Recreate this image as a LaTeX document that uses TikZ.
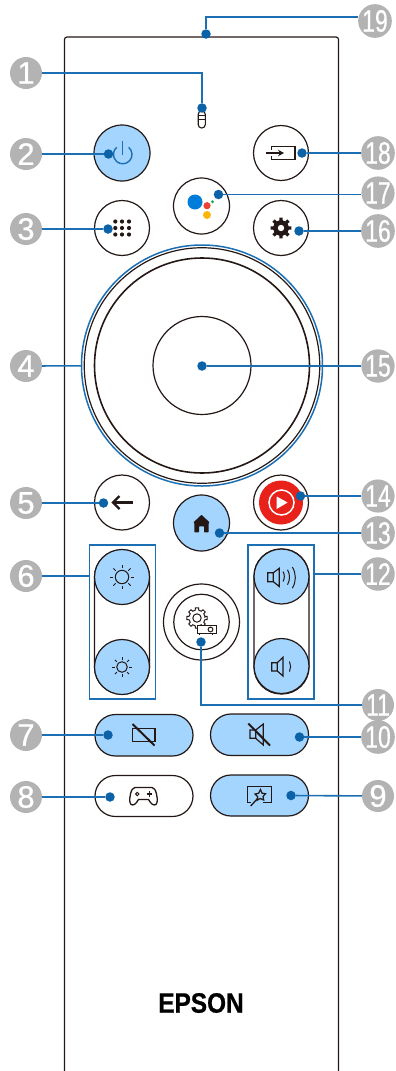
\documentclass[tikz,border=0pt]{standalone}
\usepackage{fontspec}
\setmainfont{Liberation Sans}
\newfontfamily\numfont[FakeBold=0.7]{Liberation Sans}
\newfontfamily\logofont[FakeBold=0.8]{Liberation Sans Bold}
\usetikzlibrary{arrows.meta,calc}
\definecolor{ink}{HTML}{231815}
\definecolor{callblue}{HTML}{1B6FB2}
\definecolor{dotblue}{HTML}{0B62A6}
\definecolor{keyblue}{HTML}{A3D5FF}
\definecolor{labelgrey}{HTML}{B3B3B3}
\newcommand{\one}[1]{#1}
\newcommand{\two}[1]{\scalebox{0.74}[1]{#1}}
% \GearShape{centre}{outer radius}{inner radius}{options}
\newcommand{\GearShape}[4]{%
  \begin{scope}[shift={#1}]
    \path[#4] (0:#3)
    \foreach \a in {0,45,...,315}{
      -- (\a-13:#3) -- (\a-9:#2) -- (\a+9:#2) -- (\a+13:#3) -- (\a+32:#3)
    } -- cycle;
  \end{scope}}
\tikzset{
  x=1pt,y=-1pt,
  numlabel/.style={circle,fill=labelgrey,text=white,minimum size=32pt,inner sep=0pt,font=\numfont\fontsize{31}{31}\selectfont},
  calldot/.style={circle,fill=dotblue,minimum size=9.5pt,inner sep=0pt},
  callout/.style={draw=callblue,line width=1.6pt},
  keywhite/.style={circle,draw=ink,fill=white,line width=1.2pt,inner sep=0pt},
  keylit/.style={circle,draw=ink,fill=keyblue,line width=1.2pt,inner sep=0pt},
  pillkey/.style={draw=ink,line width=1.2pt,rounded corners=20.5pt},
  glyph/.style={draw=ink,line width=1.3pt},
  glyphthin/.style={draw=ink,line width=1pt},
  anchorpt/.style={inner sep=0pt,minimum size=0pt},
}
\begin{document}
\begin{tikzpicture}
\useasboundingbox (0,0) rectangle (396,1071);
% body
\draw[draw=ink,line width=1.2pt,rounded corners=2.5pt] (64.5,1075) -- (64.5,37) -- (338.5,37) -- (338.5,1075);

% ring
\node[circle,draw=callblue,line width=1.5pt,minimum size=241pt,inner sep=0pt] (ringblue) at (202,365.5) {};
\node[keywhite,minimum size=235.5pt] (ringouter) at (202,365.5) {};
\node[keywhite,minimum size=215pt,line width=1.6pt] (ringinner) at (202,365.5) {};
\node[keywhite,minimum size=98pt] (okkey) at (202,365.5) {};

% round keys
\node[keylit,minimum size=56pt] (power) at (122,153) {};
\node[keywhite,minimum size=55pt] (input) at (281,153) {};
\node[keywhite,minimum size=56pt] (assistant) at (201.5,206) {};
\node[keywhite,minimum size=55pt] (apps) at (122,228) {};
\node[keywhite,minimum size=55pt] (settings) at (281,228) {};
\node[keywhite,minimum size=55pt] (back) at (122,502.5) {};
\node[keywhite,minimum size=55pt] (yt) at (281,502.5) {};
\node[keylit,minimum size=56pt] (home) at (201.5,523) {};
\node[keywhite,minimum size=76pt] (projouter) at (201.5,622) {};
\node[keywhite,minimum size=55.5pt] (projinner) at (201.5,622) {};

% rocker keys
\draw[pillkey,rounded corners=27pt,fill=white] (94.5,550) rectangle (149.5,694);
\draw[pillkey,rounded corners=27pt,fill=white] (254,549) rectangle (309,694);
\node[keylit,minimum size=55pt] (brightup) at (122,577) {};
\node[keylit,minimum size=55pt] (brightdown) at (122,667) {};
\node[keylit,minimum size=55pt] (volup) at (281.5,576.5) {};
\node[keylit,minimum size=55pt] (voldown) at (281.5,666) {};

% callout frames
\node[draw=callblue,line width=1.6pt,minimum width=66pt,minimum height=154pt,inner sep=0pt] (frameb) at (122.5,622) {};
\node[draw=callblue,line width=1.6pt,minimum width=66pt,minimum height=154pt,inner sep=0pt] (framev) at (281,622) {};

% pill keys
\draw[pillkey,fill=keyblue] (95,714.5) rectangle (193,756);
\draw[pillkey,fill=keyblue] (210.5,714) rectangle (308.5,755.5);
\draw[pillkey,fill=white] (95,775.5) rectangle (193,816.5);
\draw[pillkey,fill=keyblue] (210.5,775) rectangle (308.5,816);

% ---- icons ----
% microphone
\draw[glyphthin,line width=1.1pt,rounded corners=3.4pt] (198.2,111) rectangle (205.3,128);
\draw[glyphthin] (198.2,115) -- (205.3,115) (198.2,119.5) -- (205.3,119.5);
% power
\draw[callblue,line width=1.4pt] (122.7,141) -- (122.7,155);
\draw[callblue,line width=1.4pt] (122.7,154.5) ++(-50:9.3) arc[start angle=-50,end angle=230,radius=9.3];
% input
\draw[glyph] (271.8,150) -- (271.8,146.7) -- (295,146.7) -- (295,159.3) -- (271.8,159.3) -- (271.8,156);
\draw[ink,line width=1.6pt,-{Stealth[length=6pt,width=6.5pt]}] (266,153) -- (284,153);
% assistant
\fill[fill={rgb,255:red,0;green,124;blue,218}] (195,202) circle[radius=7.5];
\fill[fill={rgb,255:red,234;green,67;blue,53}] (207,205.7) circle[radius=3.6];
\fill[fill={rgb,255:red,252;green,183;blue,10}] (207,215) circle[radius=4];
\fill[fill={rgb,255:red,30;green,170;blue,85}] (212.5,201.7) circle[radius=1.6];
% apps
\foreach \gx in {115.3,122,129}{\foreach \gy in {221.5,228,234.5}{\fill[ink] (\gx,\gy) circle[radius=2.1];}}
% settings gear
\GearShape{(281,228)}{10.6}{7.8}{fill=ink}
\fill[white] (281,228) circle[radius=3.2];
% back arrow
\draw[ink,line width=2.3pt] (113,502.5) -- (133,502.5);
\draw[ink,line width=2.3pt,line join=miter] (119.5,496) -- (113,502.5) -- (119.5,509);
% youtube
\fill[fill={rgb,255:red,232;green,33;blue,26}] (281,502.5) circle[radius=22];
\draw[white,line width=1.5pt] (281.5,502.5) circle[radius=12.5];
\fill[white] (276.7,496.5) -- (287.6,502.5) -- (276.7,509) -- cycle;
% home
\fill[ink,rounded corners=0.6pt] (201.5,514.8) -- (209.6,522.4) -- (208.6,523) -- (208.6,532.3) -- (204,532.3) -- (204,526.3) -- (199,526.3) -- (199,532.3) -- (194.4,532.3) -- (194.4,523) -- (193.4,522.4) -- cycle;
% brightness up
\draw[glyphthin] (122,577) circle[radius=6.7];
\foreach \a in {0,45,...,315}{\draw[glyphthin] (122,577) ++(\a:9) -- ++(\a:3.2);}
% brightness down
\draw[glyphthin] (122,667) circle[radius=5.3];
\foreach \a in {0,45,...,315}{\draw[glyphthin] (122,667) ++(\a:7.3) -- ++(\a:2.7);}
% volume up
\draw[glyphthin,line width=1.2pt] (273.3,572.7) -- (267.7,572.7) -- (267.7,581.7) -- (273.3,581.7) (273.3,572.7) -- (279.3,568.3) -- (279.3,586.5) -- (273.3,581.7) -- cycle;
\draw[glyphthin] (283,571.5) arc[start angle=-30,end angle=30,radius=10,y=1pt] ;
\draw[glyphthin] (287.5,569.7) arc[start angle=-30,end angle=30,radius=15,y=1pt];
\draw[glyphthin] (292.3,567) arc[start angle=-32,end angle=32,radius=20,y=1pt];
% volume down
\draw[glyphthin,line width=1.2pt] (277.3,662.7) -- (271.7,662.7) -- (271.7,671) -- (277.3,671) (277.3,662.7) -- (283,657.3) -- (283,676) -- (277.3,671) -- cycle;
\draw[glyphthin] (289.5,661.5) arc[start angle=-25,end angle=25,radius=12,y=1pt];
% projector settings
\GearShape{(197,618)}{10.2}{8}{draw=ink,line width=1pt,fill=white}
\draw[glyphthin] (197,618) circle[radius=4.2];
\draw[glyphthin,fill=white] (197,625.5) rectangle (216,633.5);
\draw[glyphthin] (210.5,629.5) circle[radius=2.4];
\draw[glyphthin] (199.5,633.5) -- (199.5,635.2) (212,633.5) -- (212,635.2);
% screen off
\draw[glyph,line width=1.4pt] (132.3,728.3) rectangle (155,741.7);
\draw[ink,line width=2pt] (132.5,724) -- (154.5,745.5);
% mute
\draw[glyph,line width=1.2pt] (255.7,730) -- (250,730) -- (250,738.3) -- (255.7,738.3) (255.7,730) -- (263.3,724) -- (263.3,745) -- (255.7,738.3) -- cycle;
\draw[ink,line width=2pt] (248.3,723.5) -- (270,745.5);
% game pad
\draw[glyph] (135,787.5) -- (152,787.5) .. controls (156,787.5) and (158,798) .. (157,802.5) .. controls (156.5,806) and (152.5,805.5) .. (150.5,802.5) -- (148.5,799.5) -- (138.5,799.5) -- (136.5,802.5) .. controls (134.5,805.5) and (130.5,806) .. (130,802.5) .. controls (129,798) and (131,787.5) .. (135,787.5) -- cycle;
\draw[glyphthin] (137.3,794) circle[radius=1.7];
\draw[glyphthin,line width=1.2pt] (146.6,794) -- (152,794) (149.3,791.3) -- (149.3,796.7);
% magic wand on screen
\draw[glyph] (251,802.3) -- (247.3,802.3) -- (247.3,786.7) -- (271.7,786.7) -- (271.7,802.3) -- (262.7,802.3);
\draw[glyphthin,line width=1.2pt,fill=keyblue] (260.5,789.5) -- (262,793.2) -- (265.5,793.7) -- (263,796.5) -- (263.7,800) -- (260.2,798.5) -- (257.2,800.2) -- (257.7,796.7) -- (255,794) -- (258.6,793.3) -- cycle;
\draw[ink,line width=1.3pt] (258,798) -- (250.7,806);
% EPSON
\node[anchorpt,font=\logofont\fontsize{28}{28}\selectfont,text=black] (logo) at (201,1003) {\scalebox{0.87}[1]{EPSON}};

% ---- number labels ----
\node[numlabel] (l1) at (26,73) {\one{1}};
\node[numlabel] (l2) at (26,154) {\one{2}};
\node[numlabel] (l3) at (26,229) {\one{3}};
\node[numlabel] (l4) at (26,366) {\one{4}};
\node[numlabel] (l5) at (26,503) {\one{5}};
\node[numlabel] (l6) at (26,576) {\one{6}};
\node[numlabel] (l7) at (26,735) {\one{7}};
\node[numlabel] (l8) at (26,797) {\one{8}};
\node[numlabel] (l9) at (378,796) {\one{9}};
\node[numlabel] (l10) at (378,737) {\two{10}};
\node[numlabel] (l11) at (378,705) {\two{11}};
\node[numlabel] (l12) at (378,574) {\two{12}};
\node[numlabel] (l13) at (378,533) {\two{13}};
\node[numlabel] (l14) at (378,496) {\two{14}};
\node[numlabel] (l15) at (378,366) {\two{15}};
\node[numlabel] (l16) at (378,231) {\two{16}};
\node[numlabel] (l17) at (378,193) {\two{17}};
\node[numlabel] (l18) at (378,153) {\two{18}};
\node[numlabel] (l19) at (375,21) {\two{19}};

% ---- callout dots ----
\node[calldot] (d1) at (202,108) {};
\node[calldot] (d2) at (108.5,154) {};
\node[calldot] (d3) at (108,229) {};
\node[calldot] (d5) at (103.5,503) {};
\node[calldot] (d7) at (108,735) {};
\node[calldot] (d8) at (110,797) {};
\node[calldot] (d9) at (291,795.5) {};
\node[calldot] (d10) at (299.5,737) {};
\node[calldot] (d11) at (201,642) {};
\node[calldot] (d13) at (219.5,533) {};
\node[calldot] (d14) at (300.5,496) {};
\node[calldot] (d15) at (202,366) {};
\node[calldot] (d16) at (299,231) {};
\node[calldot] (d17) at (218.5,194.5) {};
\node[calldot] (d18) at (302,153) {};
\node[calldot] (d19) at (206,34) {};

% ---- connectors ----
\draw[callout] (l1) -| (d1);
\draw[callout] (l2) -- (d2);
\draw[callout] (l3) -- (d3);
\draw[callout] (l4) -- (ringblue);
\draw[callout] (l5) -- (d5);
\draw[callout] (l6) -- (l6 -| frameb.west);
\draw[callout] (l7) -- (d7);
\draw[callout] (l8) -- (d8);
\draw[callout] (l9) -- (d9);
\draw[callout] (l10) -- (d10);
\draw[callout] (l11) -| (d11);
\draw[callout] (l12) -- (l12 -| framev.east);
\draw[callout] (l13) -- (d13);
\draw[callout] (l14) -- (d14);
\draw[callout] (l15) -- (d15);
\draw[callout] (l16) -- (d16);
\draw[callout] (d17) -- (d17 -| l17.west);
\draw[callout] (l18) -- (d18);
\draw[callout] (d19) |- ([yshift=4pt]l19.west);
\end{tikzpicture}
\end{document}
